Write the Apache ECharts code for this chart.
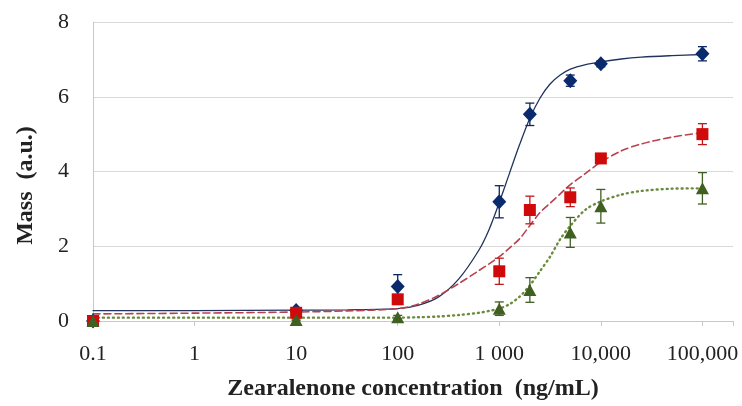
<!DOCTYPE html>
<html>
<head>
<meta charset="utf-8">
<script src="https://cdn.jsdelivr.net/npm/echarts@6/dist/echarts.min.js"></script>
<style>
  html, body { margin: 0; padding: 0; background: #fff; }
  #chart { width: 742px; height: 406px; }
</style>
</head>
<body>
<div id="chart"></div>
<script>
// tick labels of the log x axis (mixed formats as in the figure)
var tickValues = [0.1, 1, 10, 100, 1000, 10000, 100000];
var tickLabels = ['0.1', '1', '10', '100', '1 000', '10,000', '100,000'];

// measured concentrations (ng/mL)
var conc = [0.1, 10, 100, 1000, 2000, 5000, 10000, 100000];

// series A - blue diamonds
var massA = [0, 0.28, 0.92, 3.19, 5.53, 6.43, 6.88, 7.15];
var errA  = [0, 0.05, 0.32, 0.43, 0.30, 0.15, 0.08, 0.19];
// series B - red squares
var massB = [0, 0.22, 0.58, 1.33, 2.97, 3.31, 4.35, 5.00];
var errB  = [0, 0.03, 0.05, 0.35, 0.37, 0.25, 0.08, 0.28];
// series C - green triangles
var massC = [0, 0.03, 0.10, 0.33, 0.83, 2.37, 3.07, 3.55];
var errC  = [0, 0.02, 0.05, 0.18, 0.33, 0.40, 0.45, 0.42];

// fitted curves
var fitX = [0.1, 1, 10, 32, 100, 158, 251, 398, 631, 794, 1000, 1259, 1585, 1995, 2512, 3162, 3981, 5012, 7079, 10000, 15849, 25119, 50119, 100000];
var fitA = [0.28, 0.28, 0.29, 0.30, 0.33, 0.42, 0.64, 1.12, 1.90, 2.45, 3.17, 3.95, 4.72, 5.42, 5.96, 6.34, 6.58, 6.74, 6.86, 6.93, 7.01, 7.06, 7.10, 7.13];
var fitB = [0.19, 0.21, 0.24, 0.27, 0.33, 0.45, 0.68, 1.00, 1.35, 1.53, 1.72, 1.95, 2.20, 2.55, 2.90, 3.15, 3.40, 3.65, 3.95, 4.25, 4.55, 4.74, 4.92, 5.04];
var fitC = [0.09, 0.09, 0.09, 0.09, 0.09, 0.10, 0.12, 0.16, 0.22, 0.27, 0.33, 0.45, 0.65, 0.95, 1.33, 1.72, 2.19, 2.55, 2.98, 3.20, 3.38, 3.48, 3.54, 3.55];

var chart = echarts.init(document.getElementById('chart'));
var FONT = 'Liberation Serif';

function pairs(xs, ys) {
    var out = [];
    for (var i = 0; i < xs.length; ++i) {
        out.push([xs[i], ys[i]]);
    }
    return out;
}

function errData(ys, es) {
    var out = [];
    for (var i = 0; i < conc.length; ++i) {
        out.push([conc[i], ys[i] - es[i], ys[i] + es[i]]);
    }
    return out;
}

function errSeries(ys, es, color) {
    return {
        type: 'custom',
        z: 3,
        silent: true,
        data: errData(ys, es),
        encode: {x: 0, y: [1, 2]},
        renderItem: function (params, api) {
            var lo = api.coord([api.value(0), api.value(1)]);
            var hi = api.coord([api.value(0), api.value(2)]);
            var w = 4.5;
            var st = {stroke: color, lineWidth: 1.3};
            return {
                type: 'group',
                children: [
                    {type: 'line', shape: {x1: lo[0], y1: lo[1], x2: hi[0], y2: hi[1]}, style: st},
                    {type: 'line', shape: {x1: lo[0] - w, y1: lo[1], x2: lo[0] + w, y2: lo[1]}, style: st},
                    {type: 'line', shape: {x1: hi[0] - w, y1: hi[1], x2: hi[0] + w, y2: hi[1]}, style: st}
                ]
            };
        }
    };
}

function fitSeries(ys, color, type, width) {
    return {
        type: 'line',
        z: 2,
        silent: true,
        smooth: 0.3,
        symbol: 'none',
        data: pairs(fitX, ys),
        lineStyle: {color: color, width: width, type: type, cap: 'round'}
    };
}

function pointSeries(ys, symbol, size, color) {
    return {
        type: 'scatter',
        z: 4,
        symbol: symbol,
        symbolSize: size,
        itemStyle: {color: color, opacity: 1},
        data: pairs(conc, ys)
    };
}

var option = {
    animation: false,
    grid: {left: 93, right: 9, top: 22, bottom: 84},
    xAxis: {
        type: 'log',
        logBase: 10,
        min: 0.1,
        max: 200000,
        name: 'Zearalenone concentration  (ng/mL)',
        nameLocation: 'middle',
        nameGap: 56,
        nameTextStyle: {fontFamily: FONT, fontWeight: 'bold', fontSize: 24, color: '#222'},
        axisLine: {lineStyle: {color: '#c8c8c8'}},
        axisTick: {length: 5, lineStyle: {color: '#c8c8c8'}},
        splitLine: {show: false},
        minorTick: {show: false},
        axisLabel: {
            fontFamily: FONT, fontSize: 22, color: '#222', margin: 22,
            formatter: function (v) {
                for (var i = 0; i < tickValues.length; ++i) {
                    if (Math.abs(v - tickValues[i]) < tickValues[i] * 1e-6) {
                        return tickLabels[i];
                    }
                }
                return '';
            }
        }
    },
    yAxis: {
        type: 'value',
        min: 0,
        max: 8,
        interval: 2,
        name: 'Mass  (a.u.)',
        nameLocation: 'middle',
        nameGap: 55,
        nameTextStyle: {fontFamily: FONT, fontWeight: 'bold', fontSize: 24, color: '#222', padding: [0, 28, 0, 0]},
        axisLine: {show: true, lineStyle: {color: '#c8c8c8'}},
        axisTick: {show: false},
        splitLine: {lineStyle: {color: '#d9d9d9'}},
        axisLabel: {fontFamily: FONT, fontSize: 22, color: '#222', margin: 24}
    },
    series: [
        fitSeries(fitA, '#22335e', 'solid', 1.3),
        fitSeries(fitB, '#b8414e', [7, 4], 1.6),
        fitSeries(fitC, '#6a8a3c', [1, 4], 2.4),
        errSeries(massA, errA, '#0d2660'),
        errSeries(massB, errB, '#c01818'),
        errSeries(massC, errC, '#3f5f22'),
        pointSeries(massA, 'diamond', [14, 15], '#0a2a6e'),
        pointSeries(massB, 'rect', 12, '#d00a0a'),
        pointSeries(massC, 'triangle', [13, 12], '#3f6020')
    ]
};

chart.setOption(option);
</script>
</body>
</html>
